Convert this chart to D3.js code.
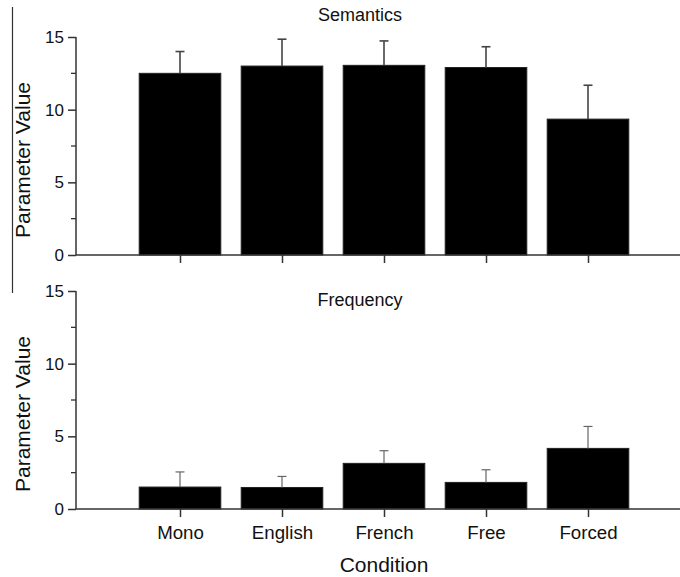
<!DOCTYPE html>
<html>
<head>
<meta charset="utf-8">
<script src="https://cdn.jsdelivr.net/npm/d3@7"></script>
<style>
  body { margin: 0; background: #fff; }
  svg { display: block; font-family: Arial, "Liberation Sans", sans-serif; }
</style>
</head>
<body>
<div id="chart"></div>
<script>
const w = 680;
const h = 577;

// conditions on the x axis
const conditions = ["Mono", "English", "French", "Free", "Forced"];

// Semantics panel (mean, upper error)
const semanticsMean = [12.5, 13.0, 13.05, 12.9, 9.35];
const semanticsErr = [1.5, 1.85, 1.68, 1.43, 2.33];

// Frequency panel
const frequencyMean = [1.51, 1.48, 3.14, 1.83, 4.17];
const frequencyErr = [1.04, 0.76, 0.87, 0.87, 1.51];

const yTicks = [0, 5, 10, 15];
const yMinorTicks = [2.5, 7.5, 12.5];

const panels = [
  { title: "Semantics", mean: semanticsMean, err: semanticsErr, top: 37, bottom: 255, titleY: 21, errColor: "#444", errWidth: 1.6 },
  { title: "Frequency", mean: frequencyMean, err: frequencyErr, top: 291, bottom: 509, titleY: 306, errColor: "#666", errWidth: 1.2 }
];

const axisLeftX = 76;
const font = "Arial, 'Liberation Sans', sans-serif";

const svg = d3.select("#chart")
              .append("svg")
              .attr("width", w)
              .attr("height", h);

// category positions 1..5 on a linear scale
const xScale = d3.scaleLinear()
                 .domain([0, 6])
                 .range([78, 690]);
const barW = (xScale(1) - xScale(0)) * 0.8;

// thin frame line at the far left of the top panel
svg.append("line")
  .attr("x1", 12.5).attr("x2", 12.5)
  .attr("y1", 7).attr("y2", 293)
  .attr("stroke", "#333")
  .attr("stroke-width", 1.2);

panels.forEach((p, pi) => {
  const yScale = d3.scaleLinear()
                   .domain([0, 15])
                   .range([p.bottom, p.top]);

  const g = svg.append("g");

  // bars
  g.selectAll(".bar")
    .data(p.mean)
    .enter()
    .append("rect")
    .attr("class", "bar")
    .attr("x", (d, i) => xScale(i + 1) - barW / 2)
    .attr("y", d => yScale(d))
    .attr("width", barW)
    .attr("height", d => yScale(0) - yScale(d))
    .attr("fill", "#000")
    .attr("stroke", "#222")
    .attr("stroke-width", 1);

  // error bars (upper only)
  const errs = g.selectAll(".err")
    .data(p.mean.map((m, i) => ({ m: m, e: p.err[i], i: i })))
    .enter()
    .append("g");

  errs.append("line")
    .attr("x1", d => xScale(d.i + 1))
    .attr("x2", d => xScale(d.i + 1))
    .attr("y1", d => yScale(d.m))
    .attr("y2", d => yScale(d.m + d.e))
    .attr("stroke", p.errColor)
    .attr("stroke-width", p.errWidth);

  errs.append("line")
    .attr("x1", d => xScale(d.i + 1) - 4.5)
    .attr("x2", d => xScale(d.i + 1) + 4.5)
    .attr("y1", d => yScale(d.m + d.e))
    .attr("y2", d => yScale(d.m + d.e))
    .attr("stroke", p.errColor)
    .attr("stroke-width", p.errWidth);

  // y axis
  const yAxis = d3.axisLeft(yScale)
                  .tickValues(yTicks)
                  .tickSize(8)
                  .tickPadding(4)
                  .tickFormat(d3.format("d"));

  const yg = g.append("g")
    .attr("transform", "translate(" + axisLeftX + ",0)")
    .call(yAxis);
  yg.select(".domain").attr("stroke", "#333").attr("stroke-width", 1.5)
    .attr("d", "M0," + yScale(15) + "V" + yScale(0));
  yg.selectAll(".tick line").attr("stroke", "#333").attr("stroke-width", 1.5);
  yg.selectAll(".tick text")
    .attr("font-size", 17)
    .attr("fill", "#111")
    .attr("font-family", font);

  // minor ticks
  yg.selectAll(".minor")
    .data(yMinorTicks)
    .enter()
    .append("line")
    .attr("x1", -5).attr("x2", 0)
    .attr("y1", d => yScale(d)).attr("y2", d => yScale(d))
    .attr("stroke", "#333")
    .attr("stroke-width", 1.3);

  // x axis
  const xAxis = d3.axisBottom(xScale)
                  .tickValues(d3.range(1, conditions.length + 1))
                  .tickSize(8)
                  .tickPadding(9)
                  .tickFormat(d => pi === 1 ? conditions[d - 1] : "");

  const xg = g.append("g")
    .attr("transform", "translate(0," + yScale(0) + ")")
    .call(xAxis);
  xg.select(".domain").attr("stroke", "#333").attr("stroke-width", 1.5)
    .attr("d", "M" + axisLeftX + ",0H" + w);
  xg.selectAll(".tick line").attr("stroke", "#333").attr("stroke-width", 1.5);
  xg.selectAll(".tick text")
    .attr("font-size", 18.7)
    .attr("fill", "#111")
    .attr("font-family", font);

  // panel title
  g.append("text")
    .attr("x", 360)
    .attr("y", p.titleY)
    .attr("text-anchor", "middle")
    .attr("font-size", 18)
    .attr("fill", "#111")
    .text(p.title);

  // y axis title
  g.append("text")
    .attr("transform", "translate(30," + (p.bottom - 95) + ") rotate(-90)")
    .attr("text-anchor", "middle")
    .attr("font-size", 21)
    .attr("fill", "#111")
    .text("Parameter Value");
});

// x axis title
svg.append("text")
  .attr("x", xScale(3))
  .attr("y", 572)
  .attr("text-anchor", "middle")
  .attr("font-size", 21)
  .attr("fill", "#111")
  .text("Condition");
</script>
</body>
</html>
